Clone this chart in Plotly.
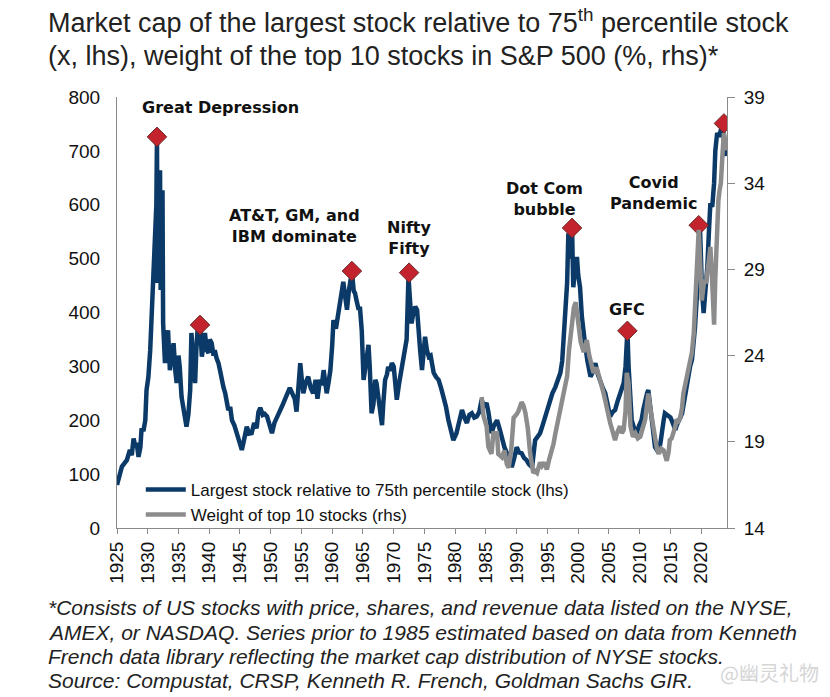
import plotly.graph_objects as go

# ---- Data ----
blue_years = [1925.0,1925.4,1925.8,1926.2,1926.6,1927.1,1927.4,1927.7,1928.0,1928.2,1928.5,1928.8,1929.0,1929.3,1929.6,1929.8,1930.1,1930.4,1930.6,1930.9,1931.2,1931.4,1931.5,1931.6,1931.8,1932.0,1932.1,1932.3,1932.4,1932.5,1932.8,1933.0,1933.3,1933.6,1933.9,1934.2,1934.5,1934.7,1935.0,1935.2,1935.5,1935.8,1936.1,1936.3,1936.6,1936.9,1937.1,1937.4,1937.7,1937.9,1938.1,1938.3,1938.5,1938.8,1939.0,1939.3,1939.6,1939.9,1940.1,1940.4,1940.7,1940.9,1941.2,1941.5,1941.8,1942.0,1942.3,1942.6,1942.9,1943.1,1943.4,1943.7,1944.1,1944.5,1944.9,1945.3,1945.6,1946.1,1946.5,1946.9,1947.3,1947.7,1948.0,1948.3,1948.7,1949.0,1949.4,1949.8,1950.2,1950.6,1951.0,1951.4,1951.8,1952.2,1952.6,1953.1,1953.5,1953.9,1954.2,1954.5,1954.8,1955.1,1955.3,1955.7,1956.1,1956.5,1956.9,1957.3,1957.6,1958.0,1958.3,1958.6,1958.9,1959.1,1959.4,1959.7,1960.0,1960.2,1960.6,1961.0,1961.4,1961.8,1962.1,1962.4,1962.7,1963.0,1963.2,1963.5,1963.7,1964.0,1964.3,1964.5,1964.8,1965.1,1965.3,1965.6,1965.9,1966.1,1966.4,1966.7,1967.0,1967.2,1967.5,1967.8,1968.1,1968.3,1968.6,1968.9,1969.1,1969.4,1969.7,1970.0,1970.3,1970.5,1970.9,1971.3,1971.6,1971.8,1972.1,1972.4,1972.6,1972.9,1973.2,1973.5,1973.8,1974.0,1974.3,1974.6,1974.9,1975.1,1975.4,1975.7,1976.0,1976.5,1976.9,1977.3,1977.7,1978.1,1978.5,1978.9,1979.3,1979.7,1980.2,1980.6,1981.1,1981.5,1981.9,1982.3,1982.7,1983.1,1983.5,1983.9,1984.3,1984.7,1985.1,1985.4,1985.9,1986.3,1986.8,1987.2,1987.6,1988.0,1988.4,1988.8,1989.2,1989.6,1990.0,1990.4,1990.8,1991.2,1991.6,1992.0,1992.5,1993.0,1993.4,1993.8,1994.2,1994.6,1995.0,1995.4,1995.8,1996.3,1996.7,1997.1,1997.4,1997.6,1997.9,1998.2,1998.4,1998.7,1999.0,1999.2,1999.5,1999.8,2000.0,2000.3,2000.6,2000.9,2001.1,2001.5,2002.0,2002.4,2002.8,2003.2,2003.6,2004.0,2004.4,2004.8,2005.2,2005.6,2006.0,2006.4,2006.8,2007.1,2007.4,2007.7,2008.0,2008.2,2008.5,2008.7,2009.1,2009.5,2009.9,2010.3,2010.6,2010.9,2011.2,2011.4,2011.7,2012.0,2012.3,2012.5,2012.8,2013.1,2013.4,2013.6,2013.9,2014.1,2014.4,2014.7,2015.0,2015.2,2015.5,2015.8,2016.0,2016.3,2016.6,2016.9,2017.2,2017.4,2017.7,2017.9,2018.2,2018.5,2018.8,2019.0,2019.3,2019.5,2019.7,2019.8,2020.0,2020.1,2020.4,2020.7,2021.0,2021.3,2021.5,2021.8,2022.1,2022.3,2022.6,2022.9,2023.2,2023.5,2023.7,2023.9]
blue_values = [80,100,114,120,126,145,135,166,150,158,132,150,185,180,200,256,280,330,392,442,529,600,726,455,560,664,442,560,627,380,306,340,367,293,320,343,290,269,320,299,243,225,200,188,210,256,362,306,269,330,367,340,377,318,345,362,330,325,350,343,320,330,315,306,290,275,262,250,235,219,225,200,190,176,165,145,160,188,175,176,195,185,215,223,210,212,207,190,176,195,207,215,225,235,245,260,250,240,216,260,306,270,250,270,281,260,250,275,240,275,265,293,270,250,270,293,340,386,370,399,420,457,430,405,440,460,476,440,436,420,405,411,367,275,290,320,340,300,213,230,275,269,238,220,191,230,275,285,299,292,306,300,260,238,270,300,320,335,350,466,420,380,400,411,405,360,330,293,330,355,330,318,320,288,280,275,260,244,225,200,180,163,176,200,219,205,195,210,213,205,207,215,238,225,232,215,176,190,200,185,163,150,139,128,113,130,150,140,139,130,126,118,113,163,170,176,190,206,220,238,250,262,275,288,310,349,400,455,547,500,557,447,480,503,470,447,392,370,343,310,281,290,306,285,269,260,250,230,207,215,219,235,250,260,269,300,366,299,230,200,185,176,190,200,220,238,250,256,230,200,170,150,145,139,160,182,200,213,210,206,205,200,190,182,190,200,205,213,235,250,265,281,300,312,340,373,430,473,530,559,490,447,399,440,485,560,603,596,640,700,733,726,740,751,720,690]

grey_years = [1984.3,1984.6,1985.1,1985.4,1985.9,1986.2,1986.8,1987.0,1987.6,1988.0,1988.4,1988.7,1989.1,1989.5,1990.0,1990.3,1990.8,1991.1,1991.4,1991.8,1992.2,1992.7,1993.0,1993.3,1993.8,1994.1,1994.5,1994.9,1995.3,1995.7,1996.0,1996.3,1996.7,1997.1,1997.5,1997.9,1998.2,1998.5,1998.7,1999.0,1999.3,1999.6,1999.8,2000.1,2000.4,2000.9,2001.1,2001.4,2001.8,2002.2,2002.5,2003.0,2003.6,2004.0,2004.4,2004.8,2005.2,2005.6,2006.0,2006.3,2006.8,2007.1,2007.4,2007.7,2007.9,2008.2,2008.5,2008.9,2009.3,2009.7,2010.1,2010.5,2010.9,2011.2,2011.4,2011.7,2012.0,2012.3,2012.5,2012.8,2013.1,2013.5,2013.9,2014.2,2014.4,2014.7,2014.9,2015.2,2015.5,2015.8,2016.0,2016.3,2016.6,2016.9,2017.1,2017.4,2017.7,2017.9,2018.2,2018.5,2018.8,2019.0,2019.1,2019.4,2019.6,2019.8,2020.1,2020.3,2020.5,2020.8,2021.0,2021.3,2021.5,2021.7,2021.9,2022.1,2022.3,2022.5,2022.8,2023.0,2023.2,2023.5,2023.7,2023.9,2024.1]
grey_values = [21.6,20.5,19.9,18.7,18.3,19.5,19.5,18.3,18.1,18.5,17.7,17.5,18.5,20.4,20.6,20.8,21.3,21.1,20.7,19.8,18.3,17.2,17.3,17.2,17.8,17.6,17.8,17.4,18.0,18.5,18.9,19.5,20.2,20.8,21.5,22.4,22.8,24.3,24.9,25.8,26.8,27.1,26.5,25.3,24.8,24.2,24.6,24.9,24.0,23.4,23.0,23.3,22.6,22.0,21.4,20.6,20.1,19.6,19.1,19.5,19.9,19.5,19.7,20.8,23.0,22.4,19.9,19.3,19.5,19.2,19.3,19.8,20.3,21.2,21.8,21.0,20.3,19.5,18.9,18.6,18.3,18.6,18.5,18.0,17.9,18.4,19.1,19.2,19.5,19.9,20.3,20.2,20.4,21.0,21.8,22.3,22.8,23.2,23.7,24.2,25.3,26.5,28.0,29.8,31.3,29.1,27.2,27.8,28.4,28.2,28.8,29.5,30.3,29.0,27.6,25.8,28.5,30.7,33.0,33.6,34.0,35.9,36.9,36.5,35.9]

peak_years = [1931.5, 1938.5, 1963.2, 1972.5, 1999.0, 2008.0, 2019.6, 2023.7]
peak_values = [726, 377, 477, 474, 557, 366, 562, 751]

event_labels = ["Great Depression", "AT&T, GM, and<br>IBM dominate", "Nifty<br>Fifty",
                "Dot Com<br>bubble", "GFC", "Covid<br>Pandemic"]
event_x = [1941.9, 1953.8, 1972.5, 1994.5, 2008.0, 2012.2]
event_y = [780, 560, 538, 610, 406, 621]

x_ticks = list(range(1925, 2021, 5))
left_ticks = list(range(0, 801, 100))
right_ticks = [14, 19, 24, 29, 34, 39]

title_lines = ["Market cap of the largest stock relative to 75<sup>th</sup> percentile stock",
               "(x, lhs), weight of the top 10 stocks in S&P 500 (%, rhs)*"]
footnote_lines = ["*Consists of US stocks with price, shares, and revenue data listed on the NYSE,",
                  "AMEX, or NASDAQ. Series prior to 1985 estimated based on data from Kenneth",
                  "French data library reflecting the market cap distribution of NYSE stocks.",
                  "Source: Compustat, CRSP, Kenneth R. French, Goldman Sachs GIR."]

BLUE = "#0B3A68"
GREY = "#8C8C8C"
SANS = "Liberation Sans, Arial, sans-serif"
BOLD = "DejaVu Sans, Liberation Sans, Arial, sans-serif"

# figure sized to sit inside the page's default 8px body margin
W, H = 822, 689
L, R, T, B = 109, 103, 89, 169
PW, PH = W - L - R, H - T - B
OFF = 8


def px(X):
    return (X - OFF - L) / PW


def py(Y):
    return (H - B - (Y - OFF)) / PH


fig = go.Figure()
fig.add_trace(go.Scatter(x=blue_years, y=blue_values, mode="lines",
                         line=dict(color=BLUE, width=4.5),
                         name="Largest stock relative to 75th percentile stock (lhs)"))
fig.add_trace(go.Scatter(x=grey_years, y=grey_values, mode="lines", yaxis="y2",
                         line=dict(color=GREY, width=4.5),
                         name="Weight of top 10 stocks (rhs)"))
fig.add_trace(go.Scatter(x=peak_years, y=peak_values, mode="markers", showlegend=False,
                         marker=dict(symbol="diamond", size=15, color="#C3232D",
                                     line=dict(color="#6B2A2A", width=1))))

for t, x, y in zip(event_labels, event_x, event_y):
    fig.add_annotation(x=x, y=y, xref="x", yref="y", text="<b>" + t + "</b>",
                       showarrow=False, font=dict(family=BOLD, size=16, color="#111111"),
                       align="center")

for t, yc in zip(title_lines, [21, 56]):
    fig.add_annotation(x=px(46), y=py(yc), xref="paper", yref="paper", xanchor="left",
                       yanchor="middle", text=t, showarrow=False, align="left",
                       font=dict(family=SANS, size=27, color="#222222"))

for t, yc in zip(footnote_lines, [607, 632, 656, 680]):
    fig.add_annotation(x=px(46), y=py(yc), xref="paper", yref="paper", xanchor="left",
                       yanchor="middle", text="<i>" + t + "</i>", showarrow=False,
                       align="left", font=dict(family=SANS, size=21, color="#222222"))

fig.add_annotation(x=px(769), y=py(672), xref="paper", yref="paper", xanchor="center",
                   yanchor="middle", text="@幽灵礼物", showarrow=False,
                   font=dict(family="Noto Sans CJK SC", size=20, color="#D5D5D5"))

fig.update_layout(
    width=W, height=H,
    margin=dict(l=L, r=R, t=T, b=B),
    paper_bgcolor="white", plot_bgcolor="white",
    showlegend=True,
    legend=dict(x=0.039, y=0.13, xanchor="left", yanchor="top",
                bgcolor="rgba(0,0,0,0)", font=dict(family=SANS, size=17, color="#111111"),
                itemwidth=40, tracegroupgap=0),
    xaxis=dict(range=[1925, 2024.2], tickmode="array", tickvals=x_ticks,
               ticktext=[str(v) for v in x_ticks], tickangle=-90,
               showgrid=False, zeroline=False, showline=True, linecolor="#8A8A8A",
               linewidth=1, ticks="outside", ticklen=5, tickcolor="#8A8A8A",
               tickfont=dict(family=SANS, size=19, color="#111111")),
    yaxis=dict(range=[0, 800], tickmode="array", tickvals=left_ticks,
               showgrid=False, zeroline=False, showline=True, linecolor="#8A8A8A",
               linewidth=1, ticks="", ticklabelstandoff=12,
               tickfont=dict(family=SANS, size=19, color="#111111")),
    yaxis2=dict(range=[14, 39], tickmode="array", tickvals=right_ticks, overlaying="y",
                side="right", showgrid=False, zeroline=False, showline=True,
                linecolor="#8A8A8A", linewidth=1, ticks="outside", ticklen=7,
                tickcolor="#8A8A8A", ticklabelstandoff=5,
                tickfont=dict(family=SANS, size=19, color="#111111")),
)

fig.write_html("out.html")
